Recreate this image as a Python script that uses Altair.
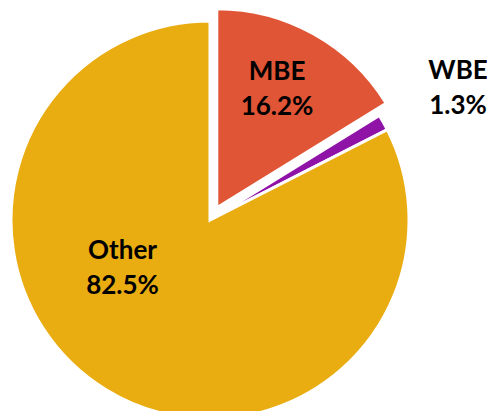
import altair as alt
import pandas as pd

categories = ["MBE", "WBE", "Other"]
values = [16.2, 1.3, 82.5]
colors = ["#E05535", "#9013A8", "#E9AD11"]

df = pd.DataFrame({"category": categories, "value": values, "idx": list(range(len(categories)))})

base = alt.Chart(df).transform_window(
    cum="sum(value)", frame=[None, 0], sort=[alt.SortField("idx")]
).transform_calculate(
    start="datum.cum - datum.value",
    mid="datum.cum - datum.value / 2",
    label="datum.category + '\\n' + format(datum.value, '.1f') + '%'",
)

theta_scale = alt.Scale(domain=[0, 100])
color_enc = alt.Color("category:N", scale=alt.Scale(domain=categories, range=colors), legend=None)

CX, CY = 202, 212
EX, EY = 208.8, 199.8
R = 199

main_arcs = base.transform_filter("datum.category != 'MBE'").mark_arc(
    stroke="white", strokeWidth=3, outerRadius=R
).encode(
    theta=alt.Theta("start:Q", scale=theta_scale),
    theta2="cum:Q",
    color=color_enc,
    x=alt.value(CX),
    y=alt.value(CY),
)

exploded = base.transform_filter("datum.category == 'MBE'").mark_arc(
    stroke="white", strokeWidth=3, outerRadius=R
).encode(
    theta=alt.Theta("start:Q", scale=theta_scale),
    theta2="cum:Q",
    color=color_enc,
    x=alt.value(EX),
    y=alt.value(EY),
)

text_style = dict(font="Lato", fontWeight="bold", fontSize=26, lineBreak="\n",
                  lineHeight=35, align="center", baseline="middle", color="black", dy=-17)

mbe_text = base.transform_filter("datum.category == 'MBE'").mark_text(
    radius=133.6, thetaOffset=-0.041, **text_style
).encode(theta=alt.Theta("mid:Q", scale=theta_scale), text="label:N",
         x=alt.value(EX), y=alt.value(EY))

wbe_text = base.transform_filter("datum.category == 'WBE'").mark_text(
    radius=281, thetaOffset=0.023, **text_style
).encode(theta=alt.Theta("mid:Q", scale=theta_scale), text="label:N",
         x=alt.value(CX), y=alt.value(CY))

other_text = base.transform_filter("datum.category == 'Other'").mark_text(
    radius=99.8, thetaOffset=0.519, **text_style
).encode(theta=alt.Theta("mid:Q", scale=theta_scale), text="label:N",
         x=alt.value(CX), y=alt.value(CY))

chart = alt.layer(main_arcs, exploded, mbe_text, wbe_text, other_text).properties(
    width=479, height=403, autosize="none", padding=0
).configure_view(stroke=None)

chart.save("out.html", embed_options={"renderer": "svg", "actions": False})
